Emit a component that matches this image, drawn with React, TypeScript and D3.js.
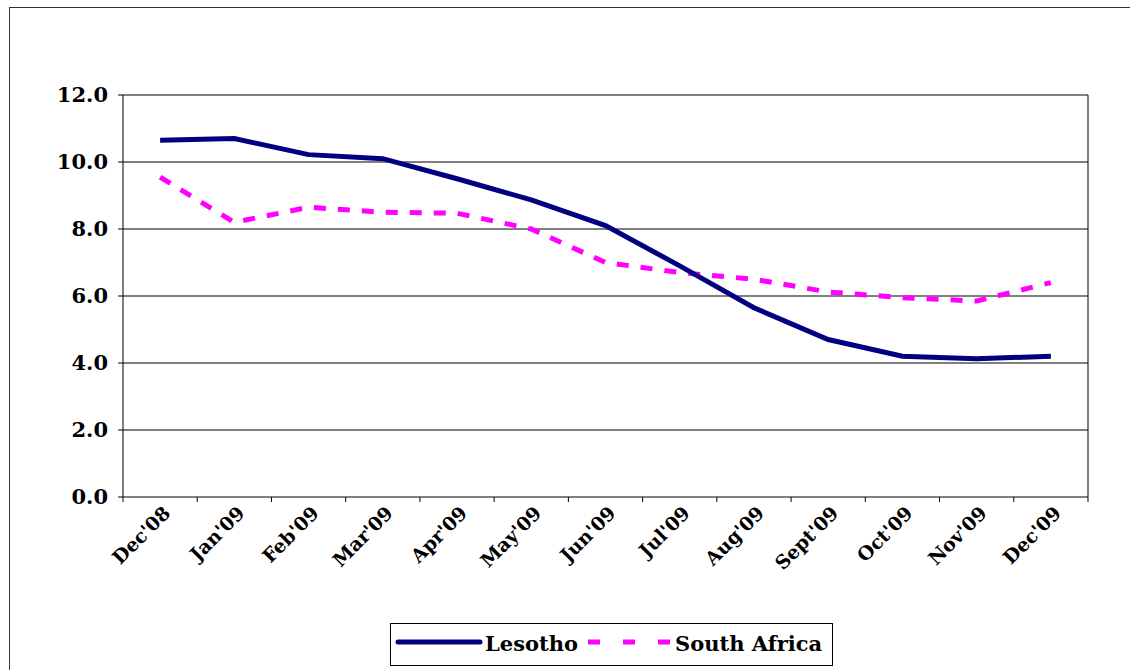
import React from "react"
import * as d3 from "d3"

const months = ["Dec'08", "Jan'09", "Feb'09", "Mar'09", "Apr'09", "May'09", "Jun'09", "Jul'09", "Aug'09", "Sept'09", "Oct'09", "Nov'09", "Dec'09"]
const lesotho = [10.65, 10.7, 10.22, 10.1, 9.5, 8.87, 8.1, 6.9, 5.65, 4.7, 4.2, 4.13, 4.2]
const southAfrica = [9.55, 8.2, 8.65, 8.5, 8.47, 8.0, 7.0, 6.7, 6.5, 6.12, 5.95, 5.85, 6.4]
const yTicks = [0, 2, 4, 6, 8, 10, 12]

const font = "'DejaVu Serif', serif"

export default function App() {
  const left = 123, right = 1088, top = 95, bottom = 497
  const x = d3.scaleBand<string>().domain(months).range([left, right])
  const y = d3.scaleLinear().domain([0, 12]).range([bottom, top])
  const cx = (m: string) => x(m)! + x.bandwidth() / 2
  const line = d3.line<number>().x((_, i) => cx(months[i])).y((d) => y(d))
  const bounds = [...months.map((m) => x(m)!), right]

  return (
    <svg width={1130} height={670} style={{ position: "absolute", left: 0, top: 0 }}>
      <rect x={9.5} y={7.5} width={1130} height={670} fill="white" stroke="#333" strokeWidth={1} />
      {yTicks.map((t) => (
        <g key={t}>
          {t > 0 && <line x1={left} x2={right} y1={y(t)} y2={y(t)} stroke="#000" strokeWidth={1} />}
          <line x1={left - 5} x2={left} y1={y(t)} y2={y(t)} stroke="#000" />
          <text x={left - 15} y={y(t)} dy="0.35em" textAnchor="end" fontFamily={font} fontWeight="bold" fontSize={21}>
            {t.toFixed(1)}
          </text>
        </g>
      ))}
      <line x1={right} x2={right} y1={top} y2={bottom} stroke="#000" />
      <line x1={left} x2={left} y1={top} y2={bottom} stroke="#000" />
      <line x1={left} x2={right} y1={bottom} y2={bottom} stroke="#000" />
      {bounds.map((b, i) => (
        <line key={i} x1={b} x2={b} y1={bottom} y2={bottom + 5} stroke="#000" />
      ))}
      {months.map((m) => (
        <text key={m} transform={`translate(${cx(m) + 2},${bottom + 8}) rotate(-45)`} textAnchor="end" dy="0.7em"
          fontFamily={font} fontWeight="bold" fontSize={19}>
          {m}
        </text>
      ))}
      <path d={line(southAfrica)!} fill="none" stroke="#ff00ff" strokeWidth={5} strokeDasharray="12 12" />
      <path d={line(lesotho)!} fill="none" stroke="#000080" strokeWidth={5} />
      <rect x={390.5} y={623.5} width={442} height={42} fill="white" stroke="#000" />
      <line x1={398} x2={480} y1={642} y2={642} stroke="#000080" strokeWidth={5} strokeLinecap="round" />
      <text x={485} y={644} dy="0.35em" fontFamily={font} fontWeight="bold" fontSize={21}>Lesotho</text>
      <line x1={588} x2={670} y1={642} y2={642} stroke="#ff00ff" strokeWidth={5} strokeDasharray="12 23" />
      <text x={675} y={644} dy="0.35em" fontFamily={font} fontWeight="bold" fontSize={21}>South Africa</text>
    </svg>
  )
}
